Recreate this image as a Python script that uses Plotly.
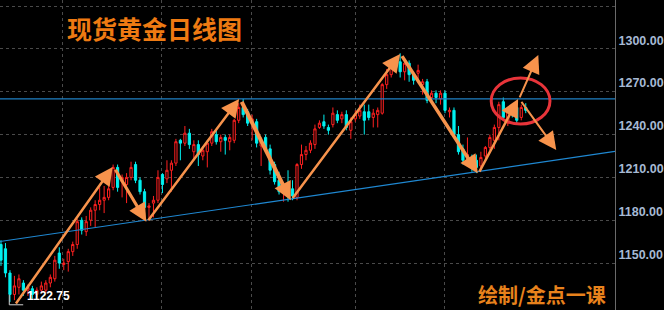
import plotly.graph_objects as go

# ---- data (daily gold candles) ----
opens = [1163,1160,1143,1128,1133,1136,1131,1132,1128,1131,1131,1136,1139,1157,1149,1151,1158,1163,1180,1172,
         1180,1187,1191,1194,1196,1203,1217,1207,1205,1210,1219,1208,1200,1189,1192,1194,1212,1209,1215,1220,
         1236,1234,1241,1228,1233,1225,1228,1234,1240,1235,1238,1235,1236,1250,1259,1256,1249,1249,1232,1238,
         1230,1219,1208,1199,1203,1202,1196,1219,1226,1229,1233,1245,1249,1245,1247,1254,1251,1254,1243,1251,
         1253,1256,1256,1252,1254,1255,1275,1282,1289,1291,1284,1290,1282,1283,1275,1277,1266,1269,1265,1269,
         1256,1257,1240,1230,1221,1224,1222,1218,1225,1231,1236,1245,1263,1248,1257,1259,1252,1259]
highs = [1166,1164,1145,1141,1142,1138,1135,1134,1133,1137,1138,1142,1155,1161,1153,1160,1165,1181,1182,1183,
         1189,1194,1203,1204,1210,1219,1219,1212,1213,1221,1221,1210,1202,1192,1197,1215,1213,1222,1222,1237,
         1237,1246,1244,1236,1236,1232,1236,1244,1243,1240,1240,1240,1251,1262,1265,1258,1254,1251,1238,1240,
         1233,1221,1214,1206,1215,1208,1220,1233,1232,1236,1247,1250,1254,1247,1259,1257,1256,1257,1252,1257,
         1261,1261,1261,1258,1259,1276,1286,1289,1292,1297,1292,1292,1284,1289,1279,1279,1271,1271,1271,1271,
         1259,1259,1246,1233,1238,1226,1226,1228,1232,1240,1247,1263,1266,1259,1260,1262,1261,1262]
lows = [1148,1140,1122.75,1124,1128,1127,1127,1125,1126,1129,1129,1133,1137,1146,1145,1144,1155,1160,1170,1169,
        1176,1175,1187,1185,1194,1201,1200,1196,1192,1208,1206,1198,1183,1180,1182,1192,1199,1206,1200,1218,
        1222,1232,1230,1222,1218,1222,1217,1232,1233,1228,1226,1229,1234,1248,1252,1246,1236,1231,1218,1228,
        1212,1205,1198,1193,1193,1194,1194,1216,1222,1227,1230,1244,1244,1240,1245,1248,1248,1243,1237,1249,
        1251,1240,1250,1245,1245,1254,1272,1280,1284,1280,1278,1277,1275,1276,1268,1262,1262,1262,1261,1255,
        1252,1238,1226,1219,1219,1214,1213,1215,1223,1229,1230,1236,1250,1246,1252,1248,1250,1255]
closes = [1152,1143,1128,1134,1139,1131,1133,1128,1131,1134,1136,1140,1152,1150,1150,1158,1163,1179,1173,1179,
          1187,1191,1194,1196,1202,1217,1203,1210,1210,1217,1208,1200,1189,1190,1194,1210,1205,1215,1220,1235,
          1234,1241,1233,1233,1226,1229,1234,1242,1235,1238,1236,1238,1250,1259,1254,1248,1251,1234,1236,1230,
          1215,1207,1200,1203,1198,1197,1219,1226,1229,1234,1244,1248,1246,1243,1255,1250,1254,1245,1249,1254,
          1257,1250,1252,1255,1257,1275,1282,1287,1287,1284,1290,1282,1278,1285,1277,1264,1269,1266,1269,1257,
          1257,1240,1228,1222,1226,1219,1217,1224,1231,1238,1245,1261,1252,1257,1255,1250,1259,1257]
candle_idx = list(range(len(closes)))

y_ticks = [1150, 1180, 1210, 1240, 1270, 1300, 1330]
y_tick_text = ["1150.00", "1180.00", "1210.00", "1240.00", "1270.00", "1300.00", "1330.00"]
month_breaks = [13.8, 35.8, 55.8, 79.1, 98.9]

resistance_level = 1265
trend_x = [-0.22, 136.9]
trend_y = [1165.1, 1228.2]

# arrows: tail (x,y) -> head (x,y)
arrow_tail_x = [3.1, 25.3, 32.6, 53.5, 64.8, 89.2, 106.5, 115.5, 115.8]
arrow_tail_y = [1120.6, 1216.5, 1179.0, 1264.0, 1194.5, 1296.0, 1213.0, 1265.0, 1264.0]
arrow_head_x = [24.9, 32.4, 53.1, 64.6, 89.0, 106.3, 115.3, 119.8, 123.8]
arrow_head_y = [1217.3, 1179.0, 1265.0, 1194.0, 1296.5, 1213.0, 1265.0, 1295.8, 1229.2]
arrow_width = [2.5, 3, 2.5, 4, 2.5, 3.5, 2.5, 2, 2]

ellipse_x = [109.3, 122.4]
ellipse_y = [1247.4, 1279.7]

title_text = "现货黄金日线图"
credit_text = "绘制/金点一课"

x_range = [-0.22, 136.9]
y_range = [1117.1, 1334.3]

# ---- figure ----
fig = go.Figure()
fig.add_trace(go.Candlestick(
    x=candle_idx, open=opens, high=highs, low=lows, close=closes,
    increasing=dict(line=dict(color="#ff2020", width=1), fillcolor="#000000"),
    decreasing=dict(line=dict(color="#00f0f0", width=1), fillcolor="#00f0f0"),
    whiskerwidth=0, hoverinfo="skip", showlegend=False,
))

shapes = []
shapes.append(dict(type="line", xref="paper", x0=0, x1=1, yref="y",
                   y0=resistance_level, y1=resistance_level,
                   line=dict(color="#1f80c4", width=1.2), layer="above"))
shapes.append(dict(type="line", xref="x", yref="y", x0=trend_x[0], x1=trend_x[1],
                   y0=trend_y[0], y1=trend_y[1],
                   line=dict(color="#1f88d2", width=1.2), layer="above"))
shapes.append(dict(type="circle", xref="x", yref="y", x0=ellipse_x[0], x1=ellipse_x[1],
                   y0=ellipse_y[0], y1=ellipse_y[1],
                   line=dict(color="#e8343a", width=3), layer="above"))

# low marker
low_val = min(lows)
low_i = lows.index(low_val)
shapes.append(dict(type="line", xref="x", yref="y", x0=low_i - 0.15, x1=low_i - 0.15,
                   y0=low_val - 2, y1=low_val + 5, line=dict(color="#d0d0d0", width=1), layer="above"))
shapes.append(dict(type="line", xref="x", yref="y", x0=low_i - 0.15, x1=low_i + 2.95,
                   y0=low_val - 2, y1=low_val - 2, line=dict(color="#d0d0d0", width=1), layer="above"))

annotations = []
for tx, ty, hx, hy, w in zip(arrow_tail_x, arrow_tail_y, arrow_head_x, arrow_head_y, arrow_width):
    annotations.append(dict(x=hx, y=hy, ax=tx, ay=ty, xref="x", yref="y", axref="x", ayref="y",
                            text="", showarrow=True, arrowhead=2, arrowsize=3.6 / w,
                            arrowwidth=w, arrowcolor="#f7934c", standoff=0, startstandoff=0))

annotations.append(dict(x=0.106, y=0.91, xref="paper", yref="paper", xanchor="left", yanchor="middle",
                        text="<b>" + title_text + "</b>", showarrow=False,
                        font=dict(family="Noto Sans CJK SC", size=25, color="#ee7a12")))
annotations.append(dict(x=0.776, y=0.05, xref="paper", yref="paper", xanchor="left", yanchor="middle",
                        text="<b>" + credit_text + "</b>", showarrow=False, borderpad=0,
                        font=dict(family="Noto Sans CJK SC", size=20, color="#e8821c")))
annotations.append(dict(x=low_i + 3.3, y=low_val + 4.5, xref="x", yref="y", xanchor="left", yanchor="middle",
                        text="<b>%.2f</b>" % low_val, showarrow=False,
                        font=dict(family="Liberation Sans", size=12, color="#ffffff")))

fig.update_layout(
    width=664, height=310,
    margin=dict(l=0, r=47, t=0, b=0),
    paper_bgcolor="#000000", plot_bgcolor="#000000",
    shapes=shapes, annotations=annotations,
    showlegend=False,
    xaxis=dict(range=x_range, rangeslider=dict(visible=False), showticklabels=False,
               tickvals=month_breaks, showgrid=True, gridcolor="#4a4a4a", griddash="dot",
               gridwidth=1, zeroline=False, showline=False, ticks=""),
    yaxis=dict(range=y_range, side="right", tickvals=y_ticks, ticktext=y_tick_text,
               ticklabelposition="outside top", showgrid=True, gridcolor="#4a4a4a",
               griddash="dot", gridwidth=1, zeroline=False, showline=True,
               linecolor="#6a6a6a", linewidth=1, ticks="", ticklabelstandoff=0,
               tickfont=dict(family="Liberation Sans", size=12.5, color="#a6b9d4", weight="bold")),
)

fig.write_html("out.html", config={"displayModeBar": False})
